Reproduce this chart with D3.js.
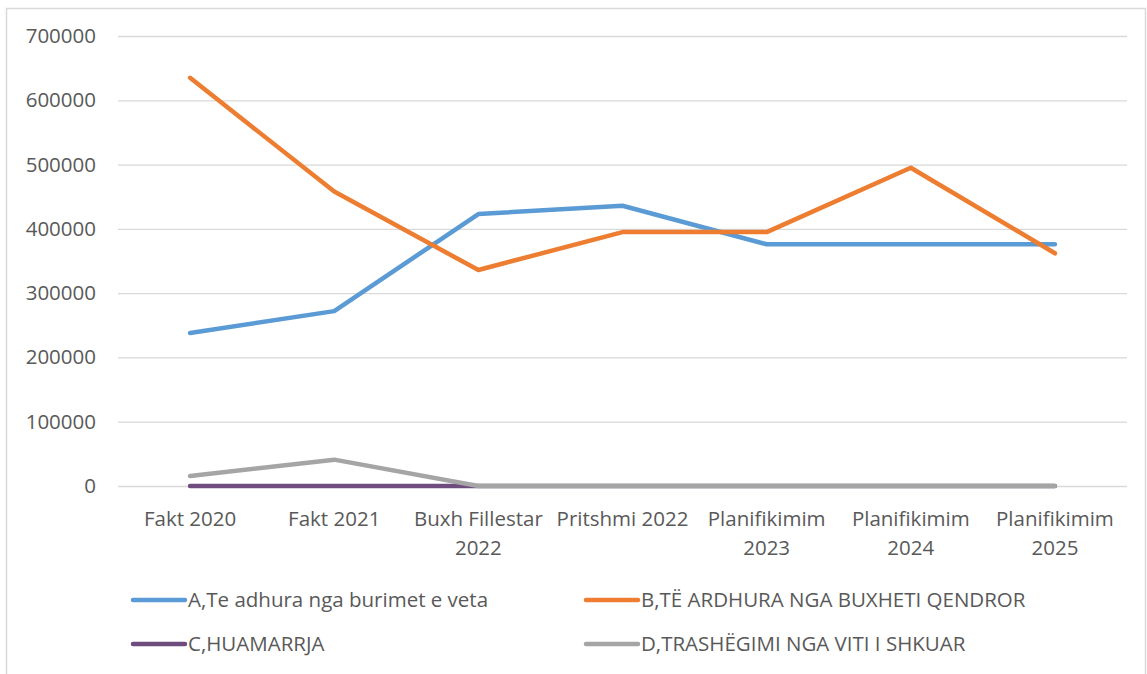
<!DOCTYPE html>
<html><head><meta charset="utf-8">
<script src="https://cdn.jsdelivr.net/npm/d3@7"></script>
<style>body{margin:0;background:#fff}svg{display:block}</style>
</head><body>
<svg id="c" width="1147" height="674"></svg>
<script>
const categories = [["Fakt 2020"],["Fakt 2021"],["Buxh Fillestar","2022"],["Pritshmi 2022"],["Planifikimim","2023"],["Planifikimim","2024"],["Planifikimim","2025"]];
const seriesNames = ["A,Te adhura nga burimet e veta","B,TË ARDHURA NGA BUXHETI QENDROR","C,HUAMARRJA","D,TRASHËGIMI NGA VITI I SHKUAR"];
const seriesA = [238000, 272000, 423000, 436000, 376000, 376000, 376000];
const seriesB = [635000, 458000, 336000, 395000, 395000, 495000, 362000];
const seriesC = [0, 0, 0, 0, 0, 0, 0];
const seriesD = [15500, 41000, 0, 0, 0, 0, 0];
const yTicks = [0, 100000, 200000, 300000, 400000, 500000, 600000, 700000];
const colors = ["#5B9BD5", "#ED7D31", "#6E4C7D", "#A5A5A5"];

const svg = d3.select("#c");
const font = "'Open Sans', 'Liberation Sans', sans-serif";
const fs = "20.5px";
svg.append("rect").attr("x",6.5).attr("y",8.5).attr("width",1139).attr("height",680)
  .attr("fill","#fff").attr("stroke","#D9D9D9").attr("stroke-width",1.5);

const x = d3.scaleBand().domain(d3.range(categories.length)).range([118, 1127]);
const y = d3.scaleLinear().domain([0, 700000]).range([486, 36]);

const yAxis = svg.append("g").attr("transform","translate(118,0)")
  .call(d3.axisLeft(y).tickValues(yTicks).tickSize(-(1127-118)).tickFormat(d3.format("d")).tickPadding(22));
yAxis.select(".domain").remove();
yAxis.selectAll("line").attr("stroke","#D9D9D9").attr("stroke-width",1.3);
yAxis.selectAll("text").attr("fill","#595959").style("font-family",font).style("font-size",fs);

const xAxis = svg.append("g").attr("transform","translate(0,486)")
  .call(d3.axisBottom(x).tickSize(0).tickFormat(""));
xAxis.select(".domain").remove();
xAxis.selectAll(".tick").each(function(d){
  const t = d3.select(this).append("text").attr("fill","#595959")
    .style("font-family",font).style("font-size",fs).attr("text-anchor","middle");
  categories[d].forEach((s,i)=>t.append("tspan").attr("x",0).attr("y",40+i*29).text(s));
});

const all = [seriesA, seriesB, seriesC, seriesD];
const line = d3.line().x((d,i)=>x(i)+x.bandwidth()/2).y(d=>y(d));
all.forEach((s,k)=>{
  svg.append("path").datum(s).attr("d",line).attr("fill","none")
    .attr("stroke",colors[k]).attr("stroke-width",4.5)
    .attr("stroke-linecap","round").attr("stroke-linejoin","round");
});

const legPos = [[133,600],[586,600],[133,644],[586,644]];
seriesNames.forEach((n,k)=>{
  const [lx,ly] = legPos[k];
  svg.append("line").attr("x1",lx).attr("x2",lx+52).attr("y1",ly).attr("y2",ly)
    .attr("stroke",colors[k]).attr("stroke-width",4.5).attr("stroke-linecap","round");
  svg.append("text").attr("x",lx+55).attr("y",ly+7).text(n).attr("fill","#595959")
    .style("font-family",font).style("font-size",fs);
});
</script>
</body></html>
